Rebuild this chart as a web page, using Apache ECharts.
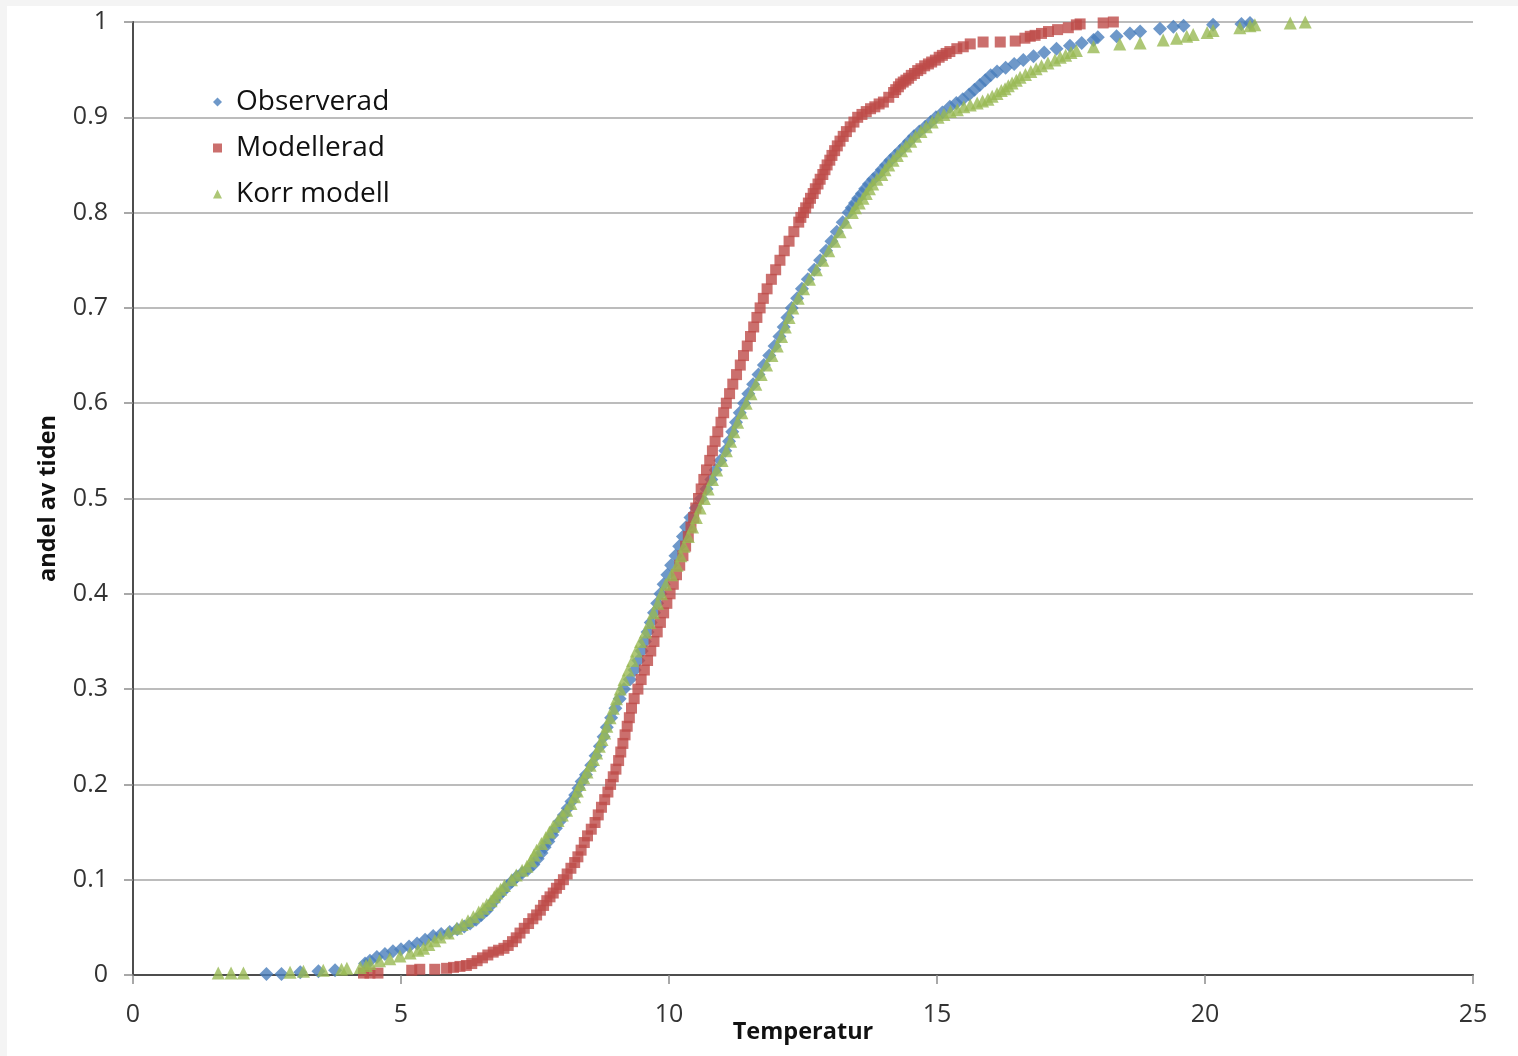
<!DOCTYPE html>
<html>
<head>
<meta charset="utf-8">
<script src="https://cdn.jsdelivr.net/npm/echarts@6/dist/echarts.min.js"></script>
<style>
  html, body { margin: 0; padding: 0; background: #f4f4f4; }
  #main { position: absolute; left: 7px; top: 6px; width: 1511px; height: 1050px; background: #fff; }
</style>
</head>
<body>
<div id="main"></div>
<script>
// [temperatur, andel av tiden]
var observerad = [
  [2.49, 0.001], [2.77, 0.001], [3.12, 0.003], [3.46, 0.004], [3.77, 0.005], [4.33, 0.012],
  [4.42, 0.015], [4.55, 0.019], [4.70, 0.022], [4.85, 0.025], [5.00, 0.027], [5.15, 0.030],
  [5.30, 0.033], [5.45, 0.037], [5.60, 0.041], [5.75, 0.043], [5.91, 0.045], [6.05, 0.048],
  [6.18, 0.051], [6.29, 0.054], [6.40, 0.058], [6.50, 0.063], [6.60, 0.068], [6.67, 0.073],
  [6.74, 0.078], [6.81, 0.083], [6.90, 0.088], [6.98, 0.093], [7.07, 0.098], [7.16, 0.103],
  [7.26, 0.107], [7.37, 0.111], [7.47, 0.116], [7.55, 0.122], [7.62, 0.128], [7.68, 0.134],
  [7.75, 0.140], [7.82, 0.147], [7.89, 0.154], [7.96, 0.161], [8.04, 0.168], [8.11, 0.175],
  [8.18, 0.182], [8.25, 0.189], [8.31, 0.196], [8.37, 0.203], [8.45, 0.210], [8.55, 0.220],
  [8.63, 0.230], [8.71, 0.240], [8.78, 0.250], [8.84, 0.260], [8.92, 0.270], [9.00, 0.280],
  [9.08, 0.290], [9.16, 0.300], [9.27, 0.310], [9.36, 0.320], [9.43, 0.330], [9.49, 0.340],
  [9.55, 0.350], [9.60, 0.360], [9.66, 0.370], [9.72, 0.380], [9.78, 0.390], [9.84, 0.400],
  [9.90, 0.410], [9.97, 0.420], [10.04, 0.430], [10.12, 0.440], [10.19, 0.450], [10.26, 0.460],
  [10.32, 0.470], [10.40, 0.480], [10.50, 0.490], [10.60, 0.500], [10.70, 0.510], [10.79, 0.520],
  [10.87, 0.530], [10.96, 0.540], [11.05, 0.550], [11.12, 0.560], [11.18, 0.570], [11.25, 0.580],
  [11.32, 0.590], [11.40, 0.600], [11.48, 0.610], [11.57, 0.620], [11.67, 0.630], [11.77, 0.640],
  [11.87, 0.650], [11.97, 0.660], [12.06, 0.670], [12.14, 0.680], [12.21, 0.690], [12.29, 0.700],
  [12.39, 0.710], [12.48, 0.720], [12.59, 0.730], [12.71, 0.740], [12.82, 0.750], [12.93, 0.760],
  [13.03, 0.770], [13.13, 0.780], [13.24, 0.790], [13.35, 0.800], [13.41, 0.805], [13.47, 0.810],
  [13.53, 0.815], [13.60, 0.820], [13.66, 0.825], [13.73, 0.830], [13.81, 0.835], [13.90, 0.840],
  [13.97, 0.845], [14.05, 0.850], [14.13, 0.855], [14.22, 0.860], [14.31, 0.865], [14.40, 0.870],
  [14.48, 0.875], [14.57, 0.880], [14.67, 0.885], [14.78, 0.890], [14.88, 0.895], [14.98, 0.900],
  [15.10, 0.905], [15.24, 0.911], [15.36, 0.915], [15.48, 0.919], [15.60, 0.924], [15.70, 0.929],
  [15.80, 0.934], [15.90, 0.939], [16.00, 0.944], [16.12, 0.948], [16.28, 0.952], [16.44, 0.956],
  [16.61, 0.960], [16.80, 0.964], [17.00, 0.968], [17.23, 0.972], [17.48, 0.975], [17.70, 0.978],
  [17.92, 0.981], [18.00, 0.984], [18.35, 0.985], [18.60, 0.988], [18.79, 0.990], [19.16, 0.993],
  [19.41, 0.995], [19.60, 0.996], [20.15, 0.997], [20.68, 0.998], [20.84, 0.999]
];
var modellerad = [
  [4.30, 0.002], [4.42, 0.002], [4.57, 0.002], [5.20, 0.005], [5.35, 0.006], [5.63, 0.006],
  [5.85, 0.007], [5.98, 0.008], [6.10, 0.009], [6.22, 0.010], [6.32, 0.012], [6.42, 0.015],
  [6.52, 0.018], [6.62, 0.021], [6.72, 0.024], [6.82, 0.026], [6.92, 0.028], [7.00, 0.031],
  [7.08, 0.035], [7.15, 0.039], [7.22, 0.044], [7.30, 0.049], [7.38, 0.054], [7.46, 0.059],
  [7.53, 0.063], [7.60, 0.068], [7.66, 0.073], [7.72, 0.078], [7.78, 0.082], [7.84, 0.086],
  [7.90, 0.091], [7.96, 0.095], [8.03, 0.100], [8.10, 0.106], [8.17, 0.112], [8.24, 0.118],
  [8.30, 0.124], [8.36, 0.131], [8.42, 0.139], [8.48, 0.146], [8.55, 0.153], [8.62, 0.160],
  [8.68, 0.168], [8.74, 0.176], [8.80, 0.184], [8.86, 0.192], [8.91, 0.200], [8.96, 0.208],
  [9.01, 0.216], [9.06, 0.225], [9.10, 0.234], [9.14, 0.243], [9.18, 0.252], [9.22, 0.261],
  [9.26, 0.270], [9.30, 0.280], [9.35, 0.290], [9.42, 0.300], [9.48, 0.310], [9.54, 0.320],
  [9.60, 0.330], [9.66, 0.340], [9.72, 0.350], [9.78, 0.360], [9.84, 0.370], [9.90, 0.380],
  [9.96, 0.390], [10.02, 0.400], [10.08, 0.410], [10.14, 0.420], [10.20, 0.430], [10.26, 0.440],
  [10.31, 0.450], [10.36, 0.460], [10.41, 0.470], [10.46, 0.480], [10.50, 0.490], [10.55, 0.500],
  [10.60, 0.510], [10.65, 0.520], [10.70, 0.530], [10.76, 0.540], [10.81, 0.550], [10.86, 0.560],
  [10.91, 0.570], [10.97, 0.580], [11.02, 0.590], [11.07, 0.600], [11.13, 0.610], [11.19, 0.620],
  [11.26, 0.630], [11.33, 0.640], [11.39, 0.650], [11.46, 0.660], [11.52, 0.670], [11.58, 0.680],
  [11.64, 0.690], [11.70, 0.700], [11.76, 0.710], [11.83, 0.720], [11.91, 0.730], [11.99, 0.740],
  [12.07, 0.750], [12.15, 0.760], [12.24, 0.770], [12.33, 0.780], [12.42, 0.790], [12.46, 0.795],
  [12.51, 0.800], [12.55, 0.805], [12.60, 0.810], [12.64, 0.815], [12.69, 0.820], [12.73, 0.825],
  [12.78, 0.830], [12.82, 0.835], [12.87, 0.840], [12.91, 0.845], [12.95, 0.850], [13.00, 0.855],
  [13.04, 0.860], [13.09, 0.865], [13.14, 0.870], [13.19, 0.875], [13.25, 0.880], [13.31, 0.885],
  [13.38, 0.890], [13.45, 0.895], [13.52, 0.900], [13.60, 0.903], [13.68, 0.906], [13.76, 0.909],
  [13.84, 0.911], [13.92, 0.914], [14.00, 0.916], [14.10, 0.921], [14.19, 0.926], [14.23, 0.929],
  [14.28, 0.932], [14.32, 0.935], [14.37, 0.937], [14.42, 0.939], [14.47, 0.941], [14.52, 0.944],
  [14.58, 0.946], [14.64, 0.949], [14.70, 0.951], [14.77, 0.954], [14.84, 0.956], [14.90, 0.958],
  [14.97, 0.960], [15.04, 0.963], [15.10, 0.965], [15.17, 0.967], [15.24, 0.969], [15.37, 0.972],
  [15.49, 0.974], [15.62, 0.977], [15.86, 0.979], [16.18, 0.979], [16.46, 0.980], [16.64, 0.983],
  [16.74, 0.985], [16.83, 0.986], [16.95, 0.988], [17.08, 0.990], [17.25, 0.992], [17.45, 0.994],
  [17.60, 0.997], [17.67, 0.998], [18.10, 0.999], [18.29, 1.000]
];
var korrModell = [
  [1.59, 0.002], [1.83, 0.002], [2.06, 0.002], [2.93, 0.003], [3.18, 0.004], [3.55, 0.005],
  [3.89, 0.006], [3.99, 0.007], [4.24, 0.008], [4.35, 0.010], [4.42, 0.012], [4.60, 0.015],
  [4.79, 0.017], [4.98, 0.020], [5.17, 0.023], [5.32, 0.026], [5.42, 0.028], [5.52, 0.032],
  [5.63, 0.036], [5.73, 0.040], [5.88, 0.044], [6.04, 0.049], [6.14, 0.053], [6.25, 0.057],
  [6.35, 0.061], [6.45, 0.066], [6.53, 0.070], [6.60, 0.074], [6.68, 0.078], [6.74, 0.082],
  [6.79, 0.086], [6.86, 0.090], [6.93, 0.094], [7.06, 0.100], [7.15, 0.105], [7.26, 0.110],
  [7.35, 0.114], [7.42, 0.120], [7.48, 0.126], [7.53, 0.131], [7.62, 0.138], [7.70, 0.144],
  [7.77, 0.150], [7.84, 0.156], [7.93, 0.162], [8.01, 0.168], [8.09, 0.173], [8.17, 0.180],
  [8.24, 0.187], [8.29, 0.193], [8.34, 0.200], [8.41, 0.207], [8.47, 0.213], [8.53, 0.220],
  [8.59, 0.226], [8.65, 0.233], [8.70, 0.240], [8.75, 0.247], [8.80, 0.254], [8.84, 0.261],
  [8.90, 0.270], [8.96, 0.280], [9.02, 0.290], [9.09, 0.300], [9.16, 0.310], [9.24, 0.320],
  [9.32, 0.330], [9.39, 0.340], [9.47, 0.350], [9.56, 0.360], [9.64, 0.370], [9.71, 0.380],
  [9.79, 0.390], [9.86, 0.400], [9.94, 0.410], [10.05, 0.420], [10.15, 0.430], [10.22, 0.440],
  [10.28, 0.450], [10.36, 0.460], [10.44, 0.470], [10.51, 0.480], [10.58, 0.490], [10.66, 0.500],
  [10.73, 0.510], [10.81, 0.520], [10.89, 0.530], [10.99, 0.540], [11.07, 0.550], [11.15, 0.560],
  [11.21, 0.570], [11.28, 0.580], [11.36, 0.590], [11.44, 0.600], [11.53, 0.610], [11.62, 0.620],
  [11.72, 0.630], [11.82, 0.640], [11.92, 0.650], [12.02, 0.660], [12.10, 0.670], [12.17, 0.680],
  [12.24, 0.690], [12.31, 0.700], [12.41, 0.710], [12.51, 0.720], [12.62, 0.730], [12.75, 0.740],
  [12.87, 0.750], [12.98, 0.760], [13.09, 0.770], [13.19, 0.780], [13.30, 0.790], [13.42, 0.800],
  [13.48, 0.805], [13.55, 0.810], [13.62, 0.815], [13.68, 0.820], [13.74, 0.825], [13.80, 0.830],
  [13.88, 0.835], [13.97, 0.840], [14.03, 0.845], [14.10, 0.850], [14.18, 0.855], [14.26, 0.860],
  [14.34, 0.865], [14.42, 0.870], [14.51, 0.875], [14.60, 0.880], [14.70, 0.885], [14.80, 0.890],
  [14.91, 0.895], [15.02, 0.900], [15.13, 0.903], [15.25, 0.906], [15.38, 0.908], [15.50, 0.911],
  [15.62, 0.913], [15.75, 0.915], [15.85, 0.917], [15.95, 0.919], [16.03, 0.922], [16.12, 0.925],
  [16.20, 0.928], [16.27, 0.930], [16.33, 0.933], [16.40, 0.936], [16.48, 0.939], [16.55, 0.942],
  [16.65, 0.945], [16.75, 0.948], [16.85, 0.951], [16.95, 0.954], [17.07, 0.957], [17.20, 0.960],
  [17.30, 0.963], [17.40, 0.965], [17.50, 0.968], [17.60, 0.970], [17.92, 0.974], [18.41, 0.977],
  [18.79, 0.978], [19.22, 0.981], [19.47, 0.983], [19.66, 0.985], [19.78, 0.987], [20.04, 0.989],
  [20.15, 0.991], [20.65, 0.994], [20.84, 0.996], [20.93, 0.997], [21.59, 0.999], [21.87, 1.000]
];

var chartDom = document.getElementById("main");
var myChart = echarts.init(chartDom);
var option;

var fontName = "Open Sans";

option = {
  animation: false,
  textStyle: { fontFamily: fontName },
  grid: {
    left: 126,
    right: 45,
    top: 16,
    bottom: 81,
    outerBoundsMode: "none",
  },
  legend: {
    orient: "vertical",
    left: 201,
    top: 77,
    itemWidth: 9,
    itemHeight: 9,
    itemGap: 18,
    textStyle: { fontSize: 28, color: "#111", fontFamily: fontName, padding: [0, 0, 0, 9] },
    data: ["Observerad", "Modellerad", "Korr modell"],
  },
  xAxis: [
    {
      type: "value",
      min: 0,
      max: 25,
      interval: 5,
      name: "Temperatur",
      nameLocation: "middle",
      nameGap: 45,
      nameMoveOverlap: false,
      nameTextStyle: { fontSize: 23.5, fontWeight: "bold", color: "#111" },
      axisLine: { lineStyle: { color: "#8c8c8c", width: 1.5 } },
      axisTick: { show: true, length: 9, lineStyle: { color: "#8c8c8c", width: 1.5 } },
      axisLabel: { fontSize: 25, color: "#333", margin: 27 },
      splitLine: { show: false },
    },
    {
      // top border of the plot area
      type: "value",
      position: "top",
      min: 0,
      max: 25,
      axisLine: { show: true, lineStyle: { color: "#4d4d4d", width: 2 } },
      axisTick: { show: false },
      axisLabel: { show: false },
      splitLine: { show: false },
    },
  ],
  yAxis: [
    {
      type: "value",
      min: 0,
      max: 1,
      interval: 0.1,
      name: "andel av tiden",
      nameLocation: "middle",
      nameGap: 73,
      nameMoveOverlap: false,
      nameTextStyle: { fontSize: 23.5, fontWeight: "bold", color: "#111" },
      axisLine: { show: true, lineStyle: { color: "#8c8c8c", width: 1.5 } },
      axisTick: { show: true, length: 9, lineStyle: { color: "#8c8c8c", width: 1.5 } },
      axisLabel: {
        fontSize: 25,
        color: "#333",
        margin: 25,
        formatter: function (v) {
          return String(Math.round(v * 10) / 10);
        },
      },
      splitLine: { show: true, lineStyle: { color: "#a6a6a6", width: 1.5 } },
    },
    {
      // right border of the plot area
      type: "value",
      position: "right",
      min: 0,
      max: 1,
      axisLine: { show: true, lineStyle: { color: "#4d4d4d", width: 2 } },
      axisTick: { show: false },
      axisLabel: { show: false },
      splitLine: { show: false },
    },
  ],
  series: [
    {
      name: "Observerad",
      type: "scatter",
      symbol: "diamond",
      symbolSize: 14,
      itemStyle: { color: "#4a7ebb" },
      data: observerad,
    },
    {
      name: "Modellerad",
      type: "scatter",
      symbol: "rect",
      symbolSize: 11,
      itemStyle: { color: "#be4b48" },
      data: modellerad,
    },
    {
      name: "Korr modell",
      type: "scatter",
      symbol: "triangle",
      symbolSize: 13,
      itemStyle: { color: "#98b954" },
      data: korrModell,
    },
  ],
};

option && myChart.setOption(option);
</script>
</body>
</html>
